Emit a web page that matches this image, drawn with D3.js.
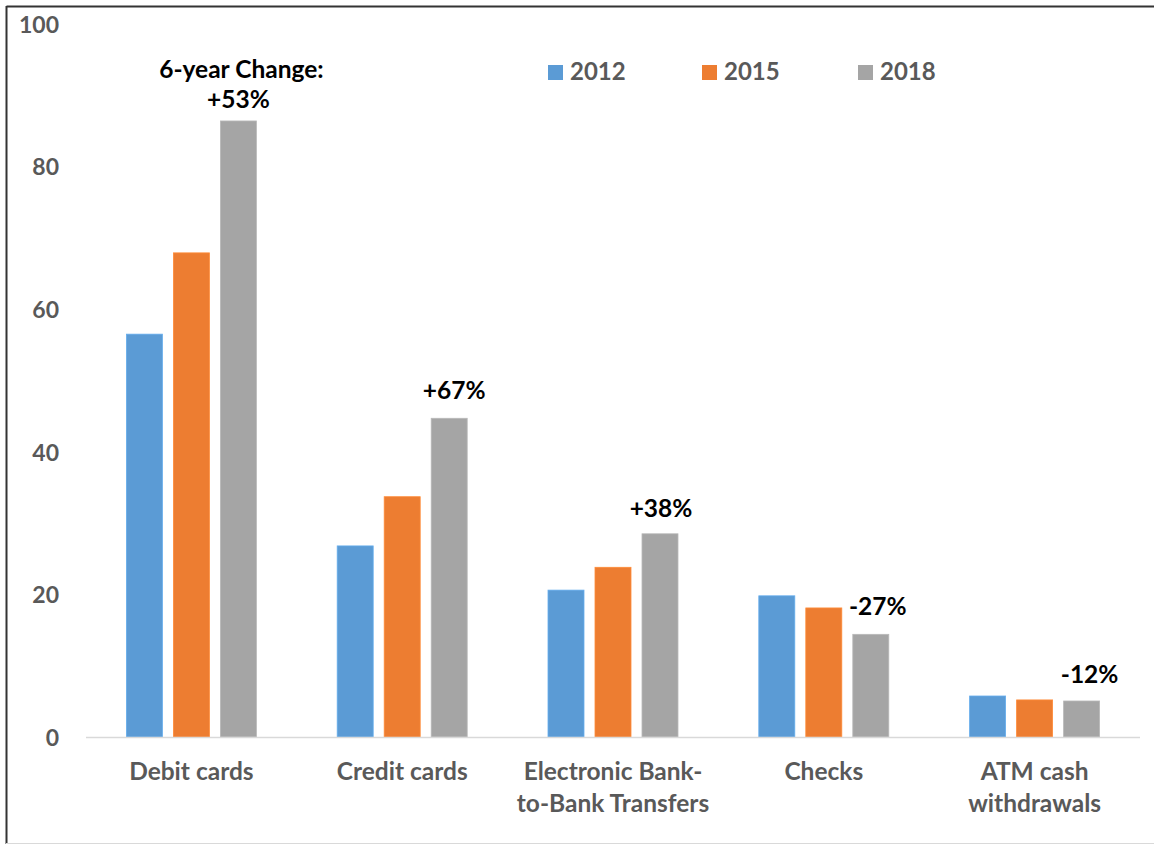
<!DOCTYPE html>
<html>
<head>
<meta charset="utf-8">
<script src="https://cdn.jsdelivr.net/npm/d3@7"></script>
<style>
  html, body { margin: 0; padding: 0; background: #fff; }
  svg { display: block; font-family: Lato, "Open Sans", sans-serif; font-weight: bold; }
</style>
</head>
<body>
<svg id="chart" width="1154" height="844"></svg>
<script>
const categories = ["Debit cards", "Credit cards", "Electronic Bank-to-Bank Transfers", "Checks", "ATM cash withdrawals"];
const categoryLines = [["Debit cards"], ["Credit cards"], ["Electronic Bank-", "to-Bank Transfers"], ["Checks"], ["ATM cash", "withdrawals"]];
const seriesNames = ["2012", "2015", "2018"];
const values2012 = [56.5, 26.8, 20.6, 19.8, 5.75];
const values2015 = [67.9, 33.7, 23.8, 18.1, 5.2];
const values2018 = [86.4, 44.7, 28.5, 14.4, 5.05];
const changeLabels = ["+53%", "+67%", "+38%", "-27%", "-12%"];
const yTicks = [0, 20, 40, 60, 80, 100];
const colors = ["#5B9BD5", "#ED7D31", "#A5A5A5"];

const seriesValues = [values2012, values2015, values2018];
const svg = d3.select("#chart");

// frame
svg.append("line").attr("x1", 6.5).attr("x2", 1154).attr("y1", 6.5).attr("y2", 6.5).attr("stroke", "#333").attr("stroke-width", 2);
svg.append("line").attr("x1", 6.5).attr("x2", 6.5).attr("y1", 6).attr("y2", 844).attr("stroke", "#333").attr("stroke-width", 2);
svg.append("line").attr("x1", 6).attr("x2", 1154).attr("y1", 843.5).attr("y2", 843.5).attr("stroke", "#d9d9d9").attr("stroke-width", 1);

const mLeft = 86, mRight = 1140, mTop = 24, mBottom = 737;
const y = d3.scaleLinear().domain([0, 100]).range([mBottom, mTop]);
const x0 = d3.scaleBand().domain(categories).range([mLeft, mRight]).padding(0);
const groupW = 130;
const off = (x0.bandwidth() - groupW) / 2;
const x1 = d3.scaleBand().domain(seriesNames).range([off, off + groupW]).paddingInner(11 / 47).paddingOuter(0);

// y tick labels
const yAxis = d3.axisLeft(y).tickValues(yTicks).tickSize(0).tickPadding(0);
const ya = svg.append("g").attr("transform", `translate(59,0)`).call(yAxis);
ya.select(".domain").remove();
ya.selectAll("text").attr("font-size", 23).attr("font-family", "Lato, sans-serif").attr("font-weight", "bold").attr("fill", "#595959").attr("dy", "0.36em");

// bars
const groups = svg.append("g").selectAll("g").data(categories).join("g")
  .attr("transform", d => `translate(${x0(d)},0)`);
groups.selectAll("rect").data((d, i) => seriesNames.map((s, j) => ({ s, j, v: seriesValues[j][i] })))
  .join("rect")
  .attr("x", d => x1(d.s))
  .attr("width", x1.bandwidth())
  .attr("y", d => y(d.v))
  .attr("height", d => y(0) - y(d.v))
  .attr("fill", d => colors[d.j])
  .attr("stroke", d => d3.color(colors[d.j]).brighter(0.3))
  .attr("stroke-width", 0.8);

// baseline
svg.append("line").attr("x1", mLeft).attr("x2", mRight).attr("y1", mBottom + 0.5).attr("y2", mBottom + 0.5).attr("stroke", "#d9d9d9").attr("stroke-width", 1.5);

// category labels
categories.forEach((c, i) => {
  const t = svg.append("text").attr("text-anchor", "middle").attr("font-size", 24.5).attr("fill", "#595959")
    .attr("x", x0(c) + x0.bandwidth() / 2).attr("y", 780);
  categoryLines[i].forEach((ln, k) => t.append("tspan").attr("x", x0(c) + x0.bandwidth() / 2).attr("dy", k === 0 ? 0 : 32).text(ln));
});

// change annotations
const anno = svg.append("g").attr("font-size", 24.5).attr("fill", "#000");
const cx2018 = i => x0(categories[i]) + x1("2018") + x1.bandwidth() / 2;
anno.append("text").attr("text-anchor", "middle").attr("x", cx2018(0) + 3).attr("y", 78).text("6-year Change:");
anno.append("text").attr("text-anchor", "middle").attr("x", cx2018(0)).attr("y", 108).text(changeLabels[0]);
anno.append("text").attr("text-anchor", "middle").attr("x", cx2018(1) + 5).attr("y", 399).text(changeLabels[1]);
anno.append("text").attr("text-anchor", "middle").attr("x", cx2018(2) + 1).attr("y", 517).text(changeLabels[2]);
anno.append("text").attr("text-anchor", "middle").attr("x", cx2018(3) + 7).attr("y", 615).text(changeLabels[3]);
anno.append("text").attr("text-anchor", "middle").attr("x", cx2018(4) + 8).attr("y", 683).text(changeLabels[4]);

// legend
const legendX = [548, 702, 858];
const lg = svg.append("g");
seriesNames.forEach((s, j) => {
  lg.append("rect").attr("x", legendX[j]).attr("y", 65).attr("width", 15).attr("height", 15).attr("fill", colors[j]);
  lg.append("text").attr("x", legendX[j] + 22).attr("y", 80).attr("font-size", 24).attr("fill", "#595959").text(s);
});
</script>
</body>
</html>
